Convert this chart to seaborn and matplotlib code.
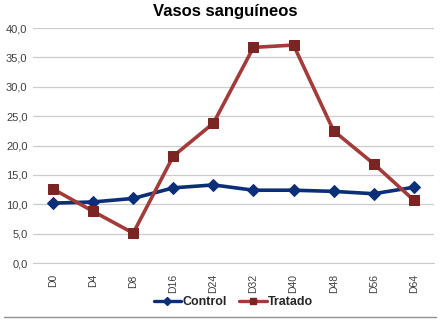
import pandas as pd
import matplotlib.pyplot as plt
import seaborn as sns
from matplotlib.lines import Line2D

dias = ['D0', 'D4', 'D8', 'D16', 'D24', 'D32', 'D40', 'D48', 'D56', 'D64']
control = [10.2, 10.4, 11.0, 12.8, 13.3, 12.4, 12.4, 12.2, 11.8, 12.9]
tratado = [12.6, 8.8, 5.1, 18.2, 23.8, 36.7, 37.1, 22.5, 16.9, 10.7]

df = pd.DataFrame({'dia': dias * 2,
                   'valor': control + tratado,
                   'grupo': ['Control'] * len(dias) + ['Tratado'] * len(dias)})

sns.set_style('white')
plt.rcParams['font.family'] = ['Liberation Sans', 'DejaVu Sans']

fig = plt.figure(figsize=(4.4, 3.22), dpi=100)
ax = fig.add_axes([0.075, 0.183, 0.911, 0.730])

ax.yaxis.grid(True, color='#cccccc', linewidth=0.9)
ax.set_axisbelow(True)

sns.lineplot(data=df, x='dia', y='valor', hue='grupo', style='grupo',
             palette={'Control': '#0a2f78', 'Tratado': '#a33b3b'},
             markers={'Control': 'D', 'Tratado': 's'}, dashes=False,
             linewidth=2.6, markersize=8, ax=ax, sort=False, legend=False)
cores_marc = ['#0a2f78', '#7a2424']
for line, mc in zip(ax.lines[:2], cores_marc):
    line.set_markerfacecolor(mc)
    line.set_markeredgecolor(mc)
ax.lines[0].set_markersize(6.5)
ax.lines[1].set_markersize(7.5)

ax.set_ylim(0, 40)
ax.set_xlim(-0.5, len(dias) - 0.5)
ax.set_yticks(range(0, 41, 5))
ax.set_yticklabels([f'{v},0' for v in range(0, 41, 5)], fontsize=8, color='#404040')
ax.tick_params(axis='x', labelrotation=90, labelsize=7.5, labelcolor='#404040', length=0, pad=8)
ax.tick_params(axis='y', length=0, pad=4)
for s in ['top', 'right', 'left']:
    ax.spines[s].set_visible(False)
ax.spines['bottom'].set_color('#cccccc')
ax.set_xlabel('')
ax.set_ylabel('')
fig.text(0.512, 0.965, 'Vasos sanguíneos', fontsize=12, fontweight='bold',
         color='black', ha='center', va='center')

# legenda com marcadores pequenos
handles = [Line2D([], [], color='#0a2f78', lw=2.4, marker='D', ms=4.5, mfc=cores_marc[0], mec=cores_marc[0]),
           Line2D([], [], color='#a33b3b', lw=2.4, marker='s', ms=5, mfc=cores_marc[1], mec=cores_marc[1])]
leg = ax.legend(handles, ['Control', 'Tratado'], loc='center', bbox_to_anchor=(0.5, -0.166),
                ncol=2, frameon=False, prop={'weight': 'bold', 'size': 9},
                handlelength=2.2, handletextpad=0.1, columnspacing=1.0)

fig.add_artist(Line2D([0.01, 0.99], [0.017, 0.017], color='#909090', linewidth=1))

fig.savefig('out.png', dpi=100)
